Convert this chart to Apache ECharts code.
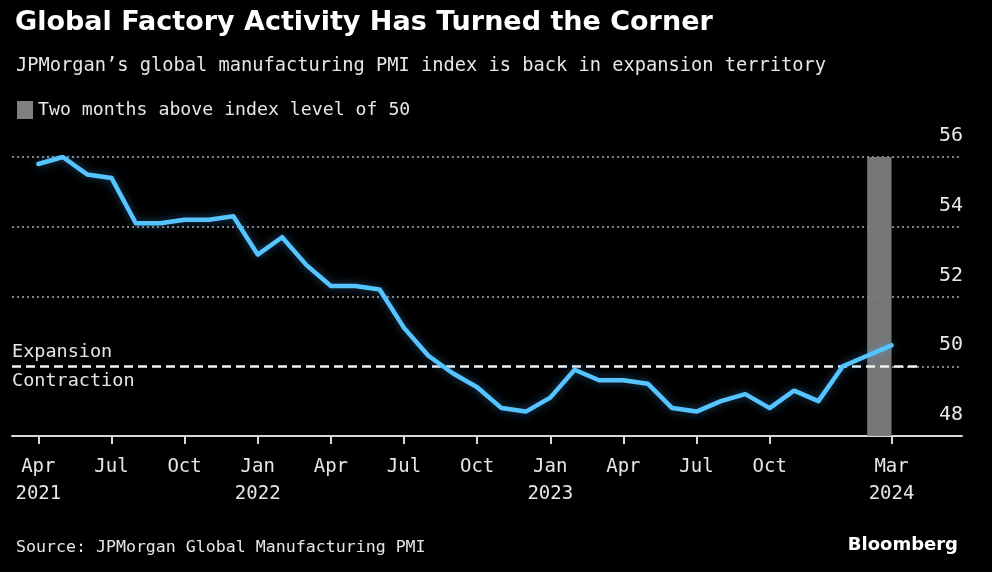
<!DOCTYPE html>
<html>
<head>
<meta charset="utf-8">
<title>Global Factory Activity Has Turned the Corner</title>
<script src="https://cdn.jsdelivr.net/npm/echarts@6/dist/echarts.min.js"></script>
<style>
  html, body { margin: 0; padding: 0; background: #000; }
  #chart { width: 992px; height: 572px; }
</style>
</head>
<body>
<div id="chart"></div>
<script>
// monthly PMI, Apr 2021 .. Mar 2024
var months = [
  '2021-04','2021-05','2021-06','2021-07','2021-08','2021-09','2021-10','2021-11','2021-12',
  '2022-01','2022-02','2022-03','2022-04','2022-05','2022-06','2022-07','2022-08','2022-09',
  '2022-10','2022-11','2022-12','2023-01','2023-02','2023-03','2023-04','2023-05','2023-06',
  '2023-07','2023-08','2023-09','2023-10','2023-11','2023-12','2024-01','2024-02','2024-03'
];
var pmi = [
  55.8, 56.0, 55.5, 55.4, 54.1, 54.1, 54.2, 54.2, 54.3,
  53.2, 53.7, 52.9, 52.3, 52.3, 52.2, 51.1, 50.3, 49.8,
  49.4, 48.8, 48.7, 49.1, 49.9, 49.6, 49.6, 49.5, 48.8,
  48.7, 49.0, 49.2, 48.8, 49.3, 49.0, 50.0, 50.3, 50.6
];
// tick positions (month index) and their labels
var tickIdx = [0, 3, 6, 9, 12, 15, 18, 21, 24, 27, 30, 35];
var tickLabels = ['Apr\n2021','Jul','Oct','Jan\n2022','Apr','Jul','Oct','Jan\n2023','Apr','Jul','Oct','Mar\n2024'];
// shaded span: two months above 50
var aboveStart = '2024-02';
var aboveEnd = '2024-03';
var yTicks = [48, 50, 52, 54, 56];

var FONT = '"DejaVu Sans Mono", monospace';
var TXT = '#e6e6e6';

var chart = echarts.init(document.getElementById('chart'));

var lineData = pmi.map(function (v, i) { return [i, v]; });
var xMin = -1.08, xMax = 37.89;
var dashEnd = 36.1;
var barStart = months.indexOf(aboveStart);

var option = {
  backgroundColor: '#000',
  animation: false,
  title: [
    {
      text: 'Global Factory Activity Has Turned the Corner',
      left: 10, top: 4,
      textStyle: { color: '#fff', fontSize: 27, fontWeight: 'bold', fontFamily: '"DejaVu Sans", sans-serif' }
    },
    {
      text: 'JPMorgan\u2019s global manufacturing PMI index is back in expansion territory',
      left: 11, top: 52,
      textStyle: { color: TXT, fontSize: 18.7, fontWeight: 'normal', fontFamily: FONT }
    },
    {
      text: 'Source: JPMorgan Global Manufacturing PMI',
      left: 11, top: 534,
      textStyle: { color: TXT, fontSize: 16.6, fontWeight: 'normal', fontFamily: FONT }
    },
    {
      text: 'Bloomberg',
      right: 29, top: 531,
      textStyle: { color: '#fff', fontSize: 18, fontWeight: 'bold', fontFamily: '"DejaVu Sans", sans-serif' }
    }
  ],
  legend: {
    left: 12, top: 96,
    itemWidth: 16, itemHeight: 18, itemGap: 10,
    icon: 'rect',
    textStyle: { color: TXT, fontSize: 18.2, fontFamily: FONT },
    data: ['Two months above index level of 50']
  },
  grid: { left: 12, right: 30, top: 157, bottom: 136 },
  xAxis: {
    type: 'value',
    min: xMin, max: xMax,
    splitLine: { show: false },
    axisLine: { show: true, lineStyle: { color: '#d8d8d8', width: 2 } },
    axisTick: {
      show: true, length: 8, customValues: tickIdx,
      lineStyle: { color: '#d8d8d8', width: 2 }
    },
    axisLabel: {
      customValues: tickIdx,
      margin: 18,
      color: TXT, fontSize: 19, lineHeight: 27, fontFamily: FONT,
      formatter: function (v) {
        var k = tickIdx.indexOf(Math.round(v));
        return k >= 0 ? tickLabels[k] : '';
      }
    }
  },
  yAxis: {
    type: 'value',
    position: 'right',
    min: 48, max: 56, interval: 2,
    axisLine: { show: false },
    axisTick: { show: false },
    splitLine: { show: true, lineStyle: { color: '#b0b0b0', width: 1.5, type: [2, 3] } },
    axisLabel: {
      inside: true, margin: -1,
      verticalAlign: 'bottom',
      padding: [0, 0, 11, 0],
      color: TXT, fontSize: 20, fontFamily: FONT,
      customValues: yTicks
    }
  },
  series: [
    {
      name: 'Two months above index level of 50',
      type: 'line',
      data: [],
      itemStyle: { color: '#808080' },
      lineStyle: { color: '#808080' },
      markArea: {
        silent: true,
        itemStyle: { color: '#7c7c7c', opacity: 0.95 },
        data: [[
          { xAxis: barStart, yAxis: 48 },
          { xAxis: months.indexOf(aboveEnd), yAxis: 56 }
        ]]
      }
    },
    {
      name: 'PMI',
      type: 'line',
      data: lineData,
      symbol: 'none',
      z: 5,
      lineStyle: {
        color: '#55c4ff', width: 4.5, join: 'round', cap: 'round',
        shadowColor: 'rgba(70,170,255,0.45)', shadowBlur: 8
      },
      markLine: {
        silent: true,
        symbol: 'none',
        z: 3,
        data: [
          // black underlay hides the dotted gridline beneath the dashes (stops at the grey bar)
          [
            { coord: [xMin, 50], lineStyle: { color: '#000', width: 3, type: 'solid' },
              label: { show: true, position: 'insideStartBottom', formatter: 'Contraction', distance: [0, 5],
                color: TXT, fontSize: 18.5, fontFamily: FONT } },
            { coord: [barStart - 0.05, 50] }
          ],
          [
            { coord: [xMin, 50], lineStyle: { color: '#f2f2f2', width: 2.5, type: [9, 5] },
              label: { show: true, position: 'insideStartTop', formatter: 'Expansion', distance: [0, 5],
                color: TXT, fontSize: 18.5, fontFamily: FONT } },
            { coord: [dashEnd, 50] }
          ]
        ]
      }
    }
  ]
};

chart.setOption(option);
</script>
</body>
</html>
